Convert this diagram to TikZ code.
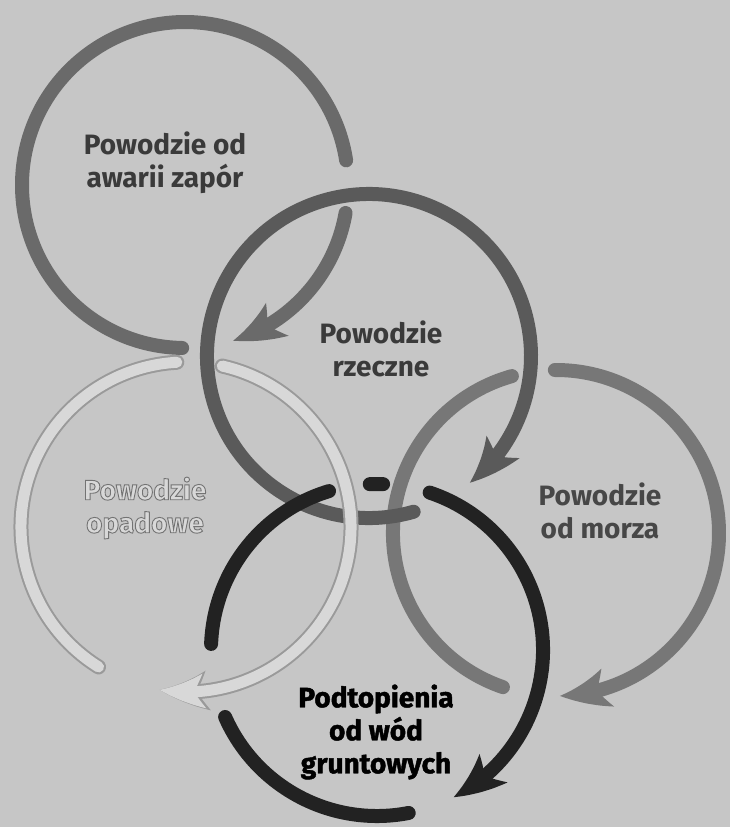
\documentclass[tikz,border=0pt]{standalone}
\usepackage{fontspec}
\setmainfont{Fira Sans}
\newfontfamily\heavyfont{Fira Sans}[BoldFeatures={FakeBold=1.6}]
\usetikzlibrary{arrows.meta,bending}
\definecolor{bg}{HTML}{C6C6C6}
\definecolor{rOne}{HTML}{6A6A6A}
\definecolor{rTwo}{HTML}{5A5A5A}
\definecolor{rThreeEdge}{HTML}{9A9A9A}
\definecolor{rThree}{HTML}{D8D8D8}
\definecolor{rFour}{HTML}{777777}
\definecolor{rFive}{HTML}{222222}
\definecolor{txtDark}{HTML}{3A3A3A}
\definecolor{txtMid}{HTML}{474747}
\newcommand\outlinetext[1]{\special{pdf:literal direct 2 Tr 0.9 w 0.45 G}#1\special{pdf:literal direct 0 Tr}}
\tikzset{
  ring/.style={line width=14pt, line cap=round},
  ringedge/.style={line width=15pt, line cap=round, rThreeEdge},
  ringin/.style={line width=11pt, line cap=round, rThree},
  head/.style={-{Stealth[length=50pt,width=40pt,inset=12pt,line width=0pt,bend]}},
  headin/.style={-{Stealth[length=46pt,width=35pt,inset=11pt,line width=0pt,bend]}},
  lbl/.style={font=\fontsize{28}{33}\selectfont\bfseries, align=center, inner sep=0pt},
}
\begin{document}
\begin{tikzpicture}[x=1pt,y=1pt]
\useasboundingbox (0,0) rectangle (730,-827);
\fill[bg] (0,0) rectangle (730,-827);
% ring 1: awarii zapor
\draw[ring, rOne] (185,-185) ++(269:163) arc[start angle=269, end angle=8.7, radius=163];
\draw[ring, rOne, head] (185,-185) ++(-9.9:163) arc[start angle=-9.9, end angle=-72.8, radius=163];
% ring 4: od morza
\draw[ring, rFour] (556,-533) ++(-109:163) arc[start angle=-109, end angle=-254.3, radius=163];
\draw[ring, rFour, head] (556,-533) ++(90.4:163) arc[start angle=90.4, end angle=-88.6, radius=163];
% ring 2: rzeczne
\draw[ring, rTwo, head] (369,-356) ++(-74:162) arc[start angle=-74, end angle=-411.5, radius=162];
% ring 3: opadowe
\draw[ringedge] (186,-527) ++(-122:165) arc[start angle=-122, end angle=-266.8, radius=165];
\draw[ringedge, head] (186,-527) ++(77.3:165) arc[start angle=77.3, end angle=-99.2, radius=165];
\draw[ringin] (186,-527) ++(-122:165) arc[start angle=-122, end angle=-266.8, radius=165];
\draw[ringin, headin] (186,-527) ++(77.3:165) arc[start angle=77.3, end angle=-99.2, radius=165];
% ring 5: gruntowych
\draw[ring, rFive] (377,-650) ++(-79:166) arc[start angle=-79, end angle=-156.2, radius=166];
\draw[ring, rFive] (377,-650) ++(177.9:166) arc[start angle=177.9, end angle=106.8, radius=166];
\draw[ring, rFive] (377,-650) ++(92.5:166) arc[start angle=92.5, end angle=87.9, radius=166];
\draw[ring, rFive, head] (377,-650) ++(71.5:166) arc[start angle=71.5, end angle=-62.5, radius=166];
% labels
\node[lbl, txtDark] (zapor) at (165,-163) {Powodzie od\\awarii zapór};
\node[lbl, txtDark] (rzeczne) at (381,-349) {Powodzie\\rzeczne};
\node[lbl, rThree] (opadowe) at (145,-508) {\outlinetext{Powodzie}\\\outlinetext{opadowe}};
\node[lbl, txtMid] (morza) at (600,-511) {Powodzie\\od morza};
\node[lbl, black, font=\fontsize{28}{33}\selectfont\heavyfont\bfseries] (grunt) at (376,-732) {Podtopienia\\od wód\\gruntowych};
\end{tikzpicture}
\end{document}
